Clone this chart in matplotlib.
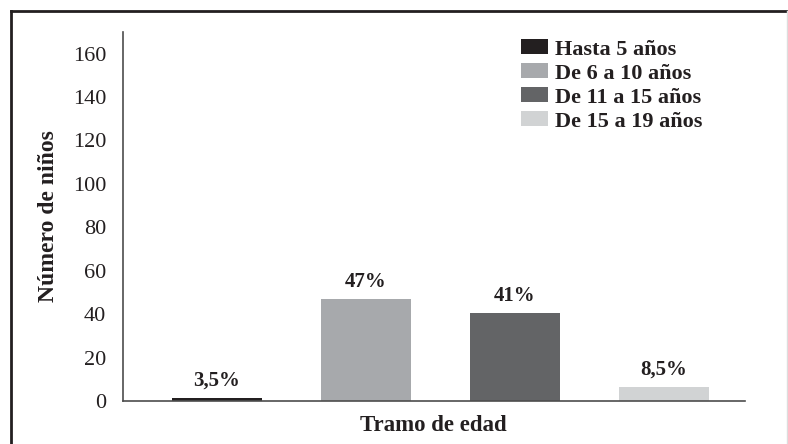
import matplotlib
matplotlib.use("Agg")
import matplotlib.pyplot as plt
from matplotlib.lines import Line2D

# datos
tramos = ["Hasta 5 años", "De 6 a 10 años", "De 11 a 15 años", "De 15 a 19 años"]
ninos = [1.5, 47, 40.5, 6.5]
porcentajes = ["3,5%", "47%", "41%", "8,5%"]
colores = ["#231f20", "#a7a9ac", "#636466", "#d1d3d4"]
y_ticks = [0, 20, 40, 60, 80, 100, 120, 140, 160]

plt.rcParams["font.family"] = ["Liberation Serif", "DejaVu Serif"]
texto = "#231f20"

fig = plt.figure(figsize=(7.88, 4.44), dpi=100)
ax = fig.add_axes([0.156, 0.097, 0.789, 0.831])

x = list(range(len(tramos)))
bars = ax.bar(x, ninos, width=0.6, color=colores, label=tramos)

for b, p in zip(bars, porcentajes):
    ax.annotate(p, (b.get_x() + b.get_width() / 2, b.get_height()),
                xytext=(0, 5), textcoords="offset points",
                ha="center", va="bottom", fontsize=15, fontweight="bold",
                color=texto)

ax.set_xlim(-0.63, 3.54)
ax.set_ylim(0, 170)
ax.set_yticks(y_ticks)
ax.set_xticks([])
ax.tick_params(axis="y", length=0, pad=12, labelsize=16, labelcolor=texto)

for s in ["top", "right"]:
    ax.spines[s].set_visible(False)
for s in ["left", "bottom"]:
    ax.spines[s].set_color("#4d4d4d")
    ax.spines[s].set_linewidth(1.2)

ax.set_ylabel("Número de niños", fontsize=17, fontweight="bold", color=texto,
              labelpad=10)
ax.set_xlabel("Tramo de edad", fontsize=16.5, fontweight="bold", color=texto,
              labelpad=10)

leg = ax.legend(loc="upper left", bbox_to_anchor=(0.64, 0.98), frameon=False,
                prop={"size": 16, "weight": "bold"}, handlelength=1.2,
                handleheight=0.65, handletextpad=0.35, labelspacing=0.17,
                borderaxespad=0, borderpad=0)
for t in leg.get_texts():
    t.set_color(texto)

# marco del recuadro
fig.add_artist(Line2D([11 / 788, 1], [1 - 11 / 444] * 2, color="#231f20",
                      linewidth=2, transform=fig.transFigure))
fig.add_artist(Line2D([11 / 788] * 2, [0, 1 - 11 / 444], color="#231f20",
                      linewidth=2, transform=fig.transFigure))
fig.add_artist(Line2D([0.999] * 2, [0, 1 - 11 / 444], color="#dddddd",
                      linewidth=1, transform=fig.transFigure))

fig.savefig("out.png", dpi=100)
